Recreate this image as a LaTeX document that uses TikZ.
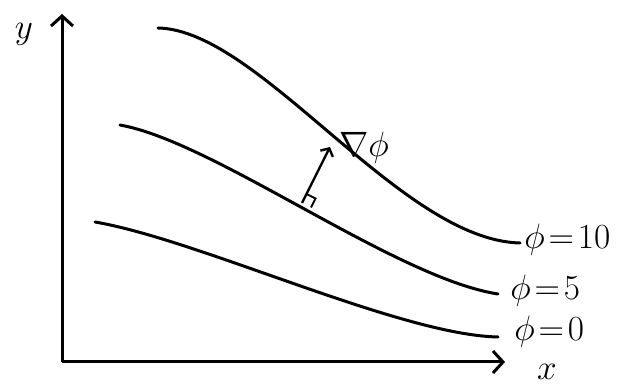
\documentclass[tikz,border=0pt]{standalone}
\usetikzlibrary{arrows.meta}
\begin{document}
\begin{tikzpicture}[x=1pt,y=-1pt,
  curve/.style={line width=3pt,line cap=round},
  barb/.style={-{Straight Barb[length=10pt,width=22pt,line width=3pt]}},
  lab/.style={font=\huge,scale=1.7,inner sep=0pt}]
\useasboundingbox (0,0) rectangle (625,390);
\coordinate (O) at (62,362);
\coordinate (ytop) at (62,14);
\coordinate (xend) at (505,362);
\draw[line width=3pt,barb] (O) -- (ytop);
\draw[line width=3pt,barb] (O) -- (xend);
\node[lab] (ylab) at (24,34) {$y$};
\node[lab] (xlab) at (547,372) {$x$};
% curves
\draw[curve] (158,28) .. controls (260,30) and (400,240) .. (520,243);
\draw[curve] (120,125) .. controls (215,142) and (395,278) .. (498,294);
\draw[curve] (95,222) .. controls (200,240) and (400,335) .. (498,337);
% gradient
\coordinate (g0) at (302,203);
\coordinate (g1) at (330,147);
\draw[line width=2.4pt,-{Straight Barb[length=6pt,width=14pt,line width=2.4pt]}] (g0) -- (g1);
\draw[line width=2pt] (311,207.5) -- (315.5,198.5) -- (306.5,194);
\node[lab] (grad) at (364,148) {$\nabla\phi$};
\node[lab,anchor=west] (l10) at (524,240) {$\phi\!=\!10$};
\node[lab,anchor=west] (l5) at (510,291) {$\phi\!=\!5$};
\node[lab,anchor=west] (l0) at (514,332) {$\phi\!=\!0$};
\end{tikzpicture}
\end{document}
